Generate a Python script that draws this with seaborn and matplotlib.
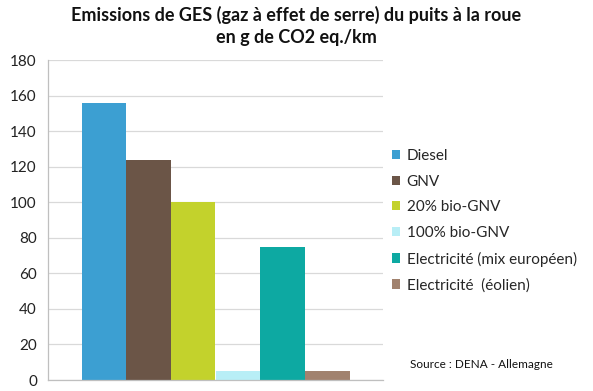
import matplotlib
matplotlib.use("Agg")
import matplotlib.pyplot as plt
import seaborn as sns
import pandas as pd

series = ["Diesel", "GNV", "20% bio-GNV", "100% bio-GNV",
          "Electricité (mix européen)", "Electricité  (éolien)"]
values = [156, 124, 100, 5, 75, 5]
colors = ["#3C9FD2", "#6B5547", "#C3D22C", "#B8EEF6", "#0DA9A2", "#A1826E"]
yticks = [0, 20, 40, 60, 80, 100, 120, 140, 160, 180]

df = pd.DataFrame({"cat": ["GES"] * len(series), "serie": series, "val": values})

sns.set_style("white")
plt.rcParams["font.family"] = ["Lato", "DejaVu Sans"]

fig = plt.figure(figsize=(5.93, 3.91), dpi=100)
ax = fig.add_axes([48 / 593, 11 / 391, 335 / 593, 320 / 391])

sns.barplot(data=df, x="cat", y="val", hue="serie", hue_order=series,
            palette=colors, width=0.8, gap=0, ax=ax, legend=False,
            edgecolor="none", saturation=1)

ax.set_ylim(0, 180)
ax.set_xlim(-0.5, 0.5)
ax.set_yticks(yticks)
ax.set_yticklabels([str(t) for t in yticks], fontsize=11, color="#222222")
ax.set_xticks([])
ax.set_xlabel("")
ax.set_ylabel("")
ax.yaxis.grid(True, color="#D9D9D9", linewidth=0.9)
ax.set_axisbelow(True)
for s in ["top", "right"]:
    ax.spines[s].set_visible(False)
for s in ["left", "bottom"]:
    ax.spines[s].set_color("#BFBFBF")
    ax.spines[s].set_linewidth(0.9)
ax.tick_params(axis="y", length=0, pad=8)

handles = [plt.Rectangle((0, 0), 1, 1, facecolor=c, edgecolor="none") for c in colors]
fig.legend(handles, series, loc="upper left", bbox_to_anchor=(392 / 593, 1 - 149 / 391),
           frameon=False, fontsize=11, handlelength=0.55, handleheight=0.55,
           handletextpad=0.4, labelspacing=0.76, borderaxespad=0, borderpad=0)

fig.text(0.5, 1 - 15 / 391, "Emissions de GES (gaz à effet de serre) du puits à la roue",
         ha="center", va="center", fontsize=13, fontweight="bold", color="#111111")
fig.text(0.5, 1 - 38 / 391, "en g de CO2 eq./km",
         ha="center", va="center", fontsize=13, fontweight="bold", color="#111111")
fig.text(410 / 593, 1 - 365 / 391, "Source : DENA - Allemagne",
         ha="left", va="center", fontsize=8.5, color="#111111")

fig.savefig("out.png", dpi=100)
